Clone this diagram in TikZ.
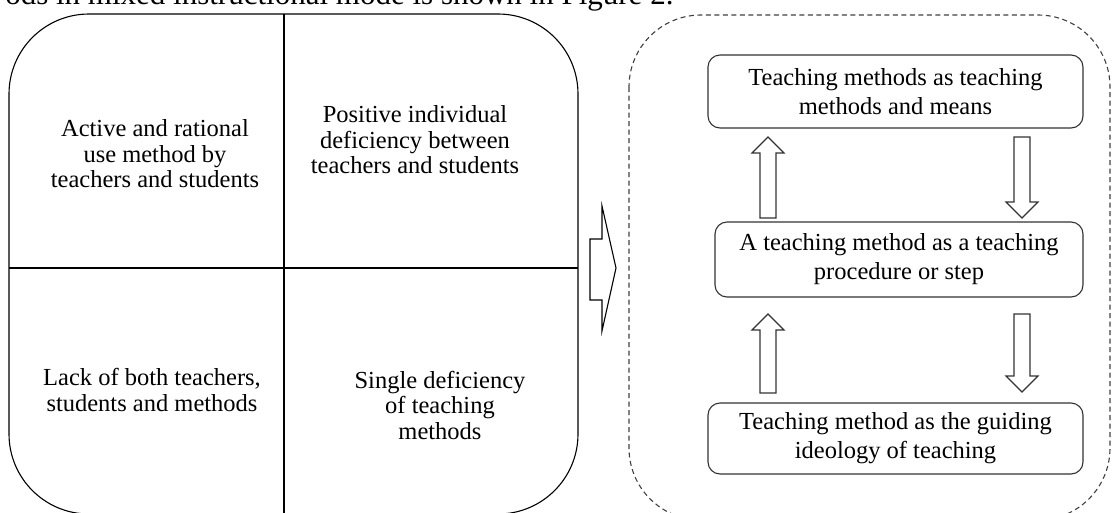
\documentclass[tikz,border=0pt]{standalone}
\usepackage{fontspec}
\setmainfont{Liberation Serif}

\begin{document}
\begin{tikzpicture}[x=1pt, y=-1pt, line width=1.1pt,
    quadtext/.style={align=center, font=\fontsize{24.5}{25.5}\selectfont},
    stagebox/.style={draw=black!80, rounded corners=12pt, align=center, inner sep=0pt,
        font=\fontsize{24.5}{29}\selectfont},
    flowarrow/.style={draw=black!80, line join=miter}]
    \useasboundingbox (0,0) rectangle (1112,512);
    \clip (0,0) rectangle (1112,512);
    % caption line cut off at the top
    \node[anchor=base east, font=\fontsize{31}{33}\selectfont, inner sep=0pt] (cap) at (674,4) {ods in mixed instructional mode is shown in Figure 2.};

    % left panel with four quadrants
    \coordinate (L1) at (9,14); \coordinate (L2) at (578,514);
    \draw[rounded corners=80pt] (L1) rectangle (L2);
    \draw (284,14) -- (284,514); \draw (9,268) -- (578,268);
    \node[quadtext] (q1) at (155,154) {Active and rational\\use method by\\teachers and students};
    \node[quadtext] (q2) at (415,140) {Positive individual\\deficiency between\\teachers and students};
    \node[quadtext] (q3) at (152,390) {Lack of both teachers,\\students and methods};
    \node[quadtext] (q4) at (440,405) {Single deficiency\\of teaching\\methods};

    % transition arrow
    \coordinate (mv) at (616,268);
    \draw[line join=miter] (590,239) -- (602,239) -- (602,206) -- (mv) -- (602,331) -- (602,300) -- (590,300) -- cycle;

    % right panel
    \draw[dashed, dash pattern=on 5pt off 3.5pt, black!75, rounded corners=72pt] (629,15) rectangle (1110,520);
    \node[stagebox, minimum width=375pt, minimum height=73pt] (s1) at (895.5,91.5) {Teaching methods as teaching\\methods and means};
    \node[stagebox, minimum width=368pt, minimum height=75pt] (s2) at (899,259.5) {A teaching method as a teaching\\procedure or step};
    \node[stagebox, minimum width=375pt, minimum height=71pt] (s3) at (895.5,438.5) {Teaching method as the guiding\\ideology of teaching};

    % hollow arrows between the stages: x / tail y / tip y
    \foreach \x/\a/\b in {768/218/137, 1022/137/218, 768/393/314, 1022/314/392} {
        \pgfmathsetmacro\hb{\b-16*sign(\b-\a)}
        \draw[flowarrow] (\x-8,\a) -- (\x-8,\hb) -- (\x-16,\hb) -- (\x,\b) -- (\x+16,\hb) -- (\x+8,\hb) -- (\x+8,\a) -- cycle;
    }
\end{tikzpicture}
\end{document}
